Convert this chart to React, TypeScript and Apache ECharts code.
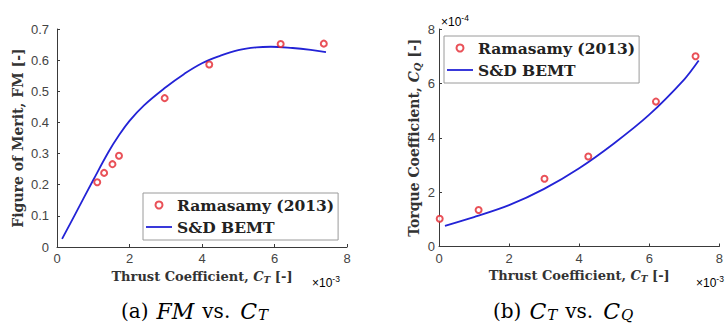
import React, { useEffect, useRef } from "react";
import * as echarts from "echarts";

// Panel (a): Figure of Merit vs thrust coefficient (CT in units of 1e-3)
const fmExpCt = [1.11, 1.3, 1.53, 1.71, 2.97, 4.2, 6.17, 7.36];
const fmExp = [0.208, 0.238, 0.266, 0.293, 0.478, 0.586, 0.652, 0.653];
const fmBemtCt = [0.14, 0.5, 1.0, 1.42, 1.7, 2.0, 2.4, 3.0, 3.5, 4.0, 4.5, 5.0, 5.5, 5.9, 6.5, 7.0, 7.42];
const fmBemt = [0.026, 0.105, 0.215, 0.305, 0.357, 0.405, 0.455, 0.513, 0.555, 0.59, 0.614, 0.632, 0.641, 0.643, 0.639, 0.633, 0.626];

// Panel (b): Torque coefficient (units 1e-4) vs thrust coefficient (units 1e-3)
const cqExpCt = [0.02, 1.13, 3.01, 4.26, 6.19, 7.32];
const cqExp = [1.02, 1.34, 2.49, 3.31, 5.33, 7.0];
const cqBemtCt = [0.17, 1, 2, 3, 4, 5, 6, 7, 7.41];
const cqBemt = [0.76, 1.08, 1.52, 2.12, 2.88, 3.8, 4.85, 6.15, 6.84];

const legendNames = ["Ramasamy (2013)", "S&D BEMT"];

const RED = "#e3262e";
const BLUE = "#2323d6";
const AXIS = "#3a3a3a";
const LABEL = "#444444";
const SERIF = "'DejaVu Serif', 'Liberation Serif', serif";
const SANS = "'Liberation Sans', Arial, sans-serif";

function nameRich(fs: number) {
  return {
    n: { fontFamily: SERIF, fontWeight: "bold" as const, fontSize: fs, color: "#333" },
    i: { fontFamily: SERIF, fontStyle: "italic" as const, fontWeight: "bold" as const, fontSize: fs, color: "#333" },
    s: { fontFamily: SERIF, fontStyle: "italic" as const, fontWeight: "bold" as const, fontSize: fs * 0.7, color: "#333", padding: [6, 0, 0, 0] },
  };
}

const capRich = {
  n: { fontFamily: SERIF, fontSize: 20, color: "#222" },
  i: { fontFamily: SERIF, fontStyle: "italic" as const, fontSize: 22, color: "#222", padding: [0, 0, 0, 8] },
  c: { fontFamily: SERIF, fontStyle: "italic" as const, fontSize: 22, color: "#222" },
  v: { fontFamily: SERIF, fontSize: 20, color: "#222", padding: [0, 10, 0, 8] },
  s: { fontFamily: SERIF, fontStyle: "italic" as const, fontSize: 15, color: "#222", padding: [8, 0, 0, 1] },
};

const sciRich = {
  a: { fontFamily: SANS, fontSize: 12, color: "#555" },
  b: { fontFamily: SANS, fontSize: 8.5, color: "#555", padding: [0, 0, 8, 0] },
};

function pairs(xs: number[], ys: number[]) {
  return xs.map((x, i) => [x, ys[i]]);
}

function xAxisCfg(gridIndex: number) {
  return {
    type: "value" as const,
    gridIndex,
    min: 0,
    max: 8,
    interval: 2,
    name: "{n|Thrust Coefficient, }{i|C}{s|T}{n| [-]}",
    nameLocation: "middle" as const,
    nameGap: 21,
    nameTextStyle: { rich: nameRich(13) },
    axisLine: { show: true, lineStyle: { color: AXIS, width: 1 } },
    axisTick: { show: true, inside: true, length: 3, lineStyle: { color: AXIS } },
    axisLabel: { color: LABEL, fontFamily: SANS, fontSize: 13, margin: 5, showMaxLabel: true },
    splitLine: { show: false },
  };
}

export default function App() {
  const ref = useRef<HTMLDivElement>(null);

  useEffect(() => {
    if (!ref.current) return;
    const chart = echarts.init(ref.current, undefined, { renderer: "svg" });

    const legendCommon = {
      orient: "vertical" as const,
      data: [
        { name: legendNames[0], icon: "emptyCircle" },
        { name: legendNames[1], icon: "path://M0,0 L26,0 L26,1.8 L0,1.8 Z" },
      ],
      itemWidth: 26,
      itemHeight: 7,
      itemGap: 6,
      itemTextGap: 3,
      symbolKeepAspect: true,
      padding: [4, 4, 5, 3],
      borderColor: "#9a9a9a",
      borderWidth: 1,
      backgroundColor: "#ffffff",
      selectedMode: false,
      textStyle: { fontFamily: SERIF, fontWeight: "bold" as const, fontSize: 15.5, color: "#222" },
    };

    chart.setOption({
      animation: false,
      backgroundColor: "#ffffff",
      grid: [
        { left: 57, top: 29, width: 290, height: 218 },
        { left: 439, top: 29, width: 291, height: 217.5 },
      ],
      xAxis: [xAxisCfg(0), xAxisCfg(1)],
      yAxis: [
        {
          type: "value",
          gridIndex: 0,
          min: 0,
          max: 0.7,
          interval: 0.1,
          name: "{n|Figure of Merit, FM [-]}",
          nameLocation: "middle",
          nameGap: 32,
          nameTextStyle: { rich: nameRich(14) },
          axisLine: { show: true, lineStyle: { color: AXIS, width: 1 } },
          axisTick: { show: true, inside: true, length: 3, lineStyle: { color: AXIS } },
          axisLabel: { color: LABEL, fontFamily: SANS, fontSize: 13, margin: 8 },
          splitLine: { show: false },
        },
        {
          type: "value",
          gridIndex: 1,
          min: 0,
          max: 8,
          interval: 2,
          name: "{n|Torque Coefficient, }{i|C}{s|Q}{n| [-]}",
          nameLocation: "middle",
          nameGap: 17,
          nameTextStyle: { rich: nameRich(14) },
          axisLine: { show: true, lineStyle: { color: AXIS, width: 1 } },
          axisTick: { show: true, inside: true, length: 3, lineStyle: { color: AXIS } },
          axisLabel: { color: LABEL, fontFamily: SANS, fontSize: 13, margin: 4 },
          splitLine: { show: false },
        },
      ],
      legend: [
        { ...legendCommon, left: 143, top: 193 },
        { ...legendCommon, left: 444, top: 36 },
      ],
      series: [
        {
          name: legendNames[0],
          type: "scatter",
          xAxisIndex: 0,
          yAxisIndex: 0,
          symbol: "emptyCircle",
          symbolSize: 6,
          itemStyle: { color: RED, borderWidth: 1.6 },
          data: pairs(fmExpCt, fmExp),
          z: 3,
        },
        {
          name: legendNames[1],
          type: "line",
          xAxisIndex: 0,
          yAxisIndex: 0,
          symbol: "none",
          smooth: 0.4,
          lineStyle: { color: BLUE, width: 1.8 },
          itemStyle: { color: BLUE },
          data: pairs(fmBemtCt, fmBemt),
          z: 2,
        },
        {
          name: legendNames[0],
          type: "scatter",
          xAxisIndex: 1,
          yAxisIndex: 1,
          symbol: "emptyCircle",
          symbolSize: 6,
          itemStyle: { color: RED, borderWidth: 1.6 },
          data: pairs(cqExpCt, cqExp),
          z: 3,
        },
        {
          name: legendNames[1],
          type: "line",
          xAxisIndex: 1,
          yAxisIndex: 1,
          symbol: "none",
          smooth: 0.3,
          lineStyle: { color: BLUE, width: 1.8 },
          itemStyle: { color: BLUE },
          data: pairs(cqBemtCt, cqBemt),
          z: 2,
        },
      ],
      graphic: [
        { type: "text", left: 312, top: 274, style: { text: "{a|×10}{b|-3}", rich: sciRich } },
        { type: "text", left: 696, top: 274, style: { text: "{a|×10}{b|-3}", rich: sciRich } },
        { type: "text", left: 441, top: 13, style: { text: "{a|×10}{b|-4}", rich: sciRich } },
        {
          type: "text",
          left: 121,
          top: 300,
          style: { text: "{n|(a)}{i|FM}{v|vs.}{c|C}{s|T}", rich: capRich },
        },
        {
          type: "text",
          left: 493,
          top: 300,
          style: { text: "{n|(b)}{i|C}{s|T}{v|vs.}{c|C}{s|Q}", rich: capRich },
        },
      ],
    });

    return () => chart.dispose();
  }, []);

  return (
    <div
      ref={ref}
      style={{ position: "absolute", left: 0, top: 0, width: 726, height: 327 }}
    />
  );
}
